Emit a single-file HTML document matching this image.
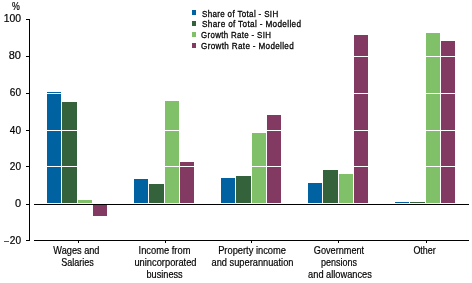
<!DOCTYPE html>
<html><head><meta charset="utf-8"><style>
html,body{margin:0;padding:0;background:#fff;width:472px;height:283px;overflow:hidden}
svg{display:block;will-change:transform}
text{font-family:"Liberation Sans",sans-serif;fill:#000;stroke:#000;stroke-width:0.2px}
.ax{font-size:11px}
.lg{font-size:9.5px;letter-spacing:0.4px;stroke-width:0.3px}
</style></head><body>
<svg width="472" height="283" viewBox="0 0 472 283">
<g shape-rendering="crispEdges"><rect x="47" y="92" width="14" height="111" fill="#0062a0"/><rect x="62" y="102" width="15" height="101" fill="#34623a"/><rect x="78" y="200" width="14" height="3" fill="#80c068"/><rect x="93" y="205" width="14" height="11" fill="#823a62"/><rect x="134" y="179" width="14" height="24" fill="#0062a0"/><rect x="149" y="184" width="15" height="19" fill="#34623a"/><rect x="165" y="101" width="14" height="102" fill="#80c068"/><rect x="180" y="162" width="14" height="41" fill="#823a62"/><rect x="221" y="178" width="14" height="25" fill="#0062a0"/><rect x="236" y="176" width="15" height="27" fill="#34623a"/><rect x="252" y="133" width="14" height="70" fill="#80c068"/><rect x="267" y="115" width="14" height="88" fill="#823a62"/><rect x="308" y="183" width="14" height="20" fill="#0062a0"/><rect x="323" y="170" width="15" height="33" fill="#34623a"/><rect x="339" y="174" width="14" height="29" fill="#80c068"/><rect x="354" y="35" width="14" height="168" fill="#823a62"/><rect x="395" y="202" width="14" height="1" fill="#0062a0"/><rect x="410" y="202" width="15" height="1" fill="#34623a"/><rect x="426" y="33" width="14" height="170" fill="#80c068"/><rect x="441" y="41" width="14" height="162" fill="#823a62"/><rect x="34" y="19" width="435" height="1" fill="#fff"/><rect x="34" y="56" width="435" height="1" fill="#fff"/><rect x="34" y="93" width="435" height="1" fill="#fff"/><rect x="34" y="130" width="435" height="1" fill="#fff"/><rect x="34" y="166" width="435" height="1" fill="#fff"/><rect x="34" y="203" width="435" height="1" fill="#fff"/><rect x="26" y="19" width="3" height="1" fill="#000"/><rect x="26" y="56" width="3" height="1" fill="#000"/><rect x="26" y="93" width="3" height="1" fill="#000"/><rect x="26" y="130" width="3" height="1" fill="#000"/><rect x="26" y="166" width="3" height="1" fill="#000"/><rect x="26" y="204" width="3" height="1" fill="#000"/><rect x="26" y="240" width="3" height="1" fill="#000"/><rect x="29" y="19" width="1" height="222" fill="#000"/><rect x="4" y="241" width="5" height="1" fill="#555"/><rect x="34" y="204" width="435" height="1" fill="#000"/><rect x="34" y="240" width="435" height="1" fill="#000"/><rect x="78" y="241" width="1" height="2" fill="#000"/><rect x="165" y="241" width="1" height="2" fill="#000"/><rect x="251" y="241" width="1" height="2" fill="#000"/><rect x="338" y="241" width="1" height="2" fill="#000"/><rect x="426" y="241" width="1" height="2" fill="#000"/><rect x="192" y="10" width="4" height="5" fill="#0062a0"/><rect x="192" y="21" width="4" height="5" fill="#34623a"/><rect x="192" y="32" width="4" height="5" fill="#80c068"/><rect x="192" y="43" width="4" height="5" fill="#823a62"/></g>
<text id="t0" x="21" y="22" text-anchor="end" class="ax" transform="matrix(0.9444,0,0,1,1.167,0)">100</text><text id="t1" x="21" y="59" text-anchor="end" class="ax" transform="matrix(1.0000,0,0,1,0.000,0)">80</text><text id="t2" x="21" y="96" text-anchor="end" class="ax" transform="matrix(0.9167,0,0,1,1.750,0)">60</text><text id="t3" x="21" y="134" text-anchor="end" class="ax" transform="matrix(0.9167,0,0,1,1.750,0)">40</text><text id="t4" x="21" y="170" text-anchor="end" class="ax" transform="matrix(0.9167,0,0,1,1.750,0)">20</text><text id="t5" x="21" y="207" text-anchor="end" class="ax" transform="matrix(1.0000,0,0,1,0.000,0)">0</text><text id="t6" x="21" y="244" text-anchor="end" class="ax" transform="matrix(0.9167,0,0,1,1.750,0)">20</text><text id="t7" x="12" y="10" text-anchor="start" class="ax" transform="matrix(0.8000,0,0,1,2.400,0)">%</text><text id="t8" x="78" y="254" text-anchor="middle" class="ax" transform="matrix(0.8364,0,0,1,11.182,0)">Wages and</text><text id="t9" x="78" y="266" text-anchor="middle" class="ax" transform="matrix(0.8205,0,0,1,13.590,0)">Salaries</text><text id="t10" x="165" y="254" text-anchor="middle" class="ax" transform="matrix(0.8500,0,0,1,24.250,0)">Income from</text><text id="t11" x="165" y="266" text-anchor="middle" class="ax" transform="matrix(0.8472,0,0,1,25.708,0)">unincorporated</text><text id="t12" x="165" y="278" text-anchor="middle" class="ax" transform="matrix(0.8372,0,0,1,26.442,0)">business</text><text id="t13" x="251" y="254" text-anchor="middle" class="ax" transform="matrix(0.8481,0,0,1,39.203,0)">Property income</text><text id="t14" x="251" y="266" text-anchor="middle" class="ax" transform="matrix(0.8438,0,0,1,40.719,0)">and superannuation</text><text id="t15" x="338" y="254" text-anchor="middle" class="ax" transform="matrix(0.8333,0,0,1,57.333,0)">Government</text><text id="t16" x="338" y="266" text-anchor="middle" class="ax" transform="matrix(0.8182,0,0,1,62.455,0)">pensions</text><text id="t17" x="338" y="278" text-anchor="middle" class="ax" transform="matrix(0.8421,0,0,1,55.368,0)">and allowances</text><text id="t18" x="426" y="254" text-anchor="middle" class="ax" transform="matrix(0.8148,0,0,1,77.481,0)">Other</text><text id="t19" x="202" y="17" text-anchor="start" class="lg" transform="matrix(0.8444,0,0,1,31.422,0)">Share of Total - SIH</text><text id="t20" x="202" y="27" text-anchor="start" class="lg" transform="matrix(0.8609,0,0,1,28.104,0)">Share of Total - Modelled</text><text id="t21" x="202" y="38" text-anchor="start" class="lg" transform="matrix(0.8333,0,0,1,32.667,0)">Growth Rate - SIH</text><text id="t22" x="202" y="49" text-anchor="start" class="lg" transform="matrix(0.8532,0,0,1,28.651,0)">Growth Rate - Modelled</text>
</svg></body></html>
